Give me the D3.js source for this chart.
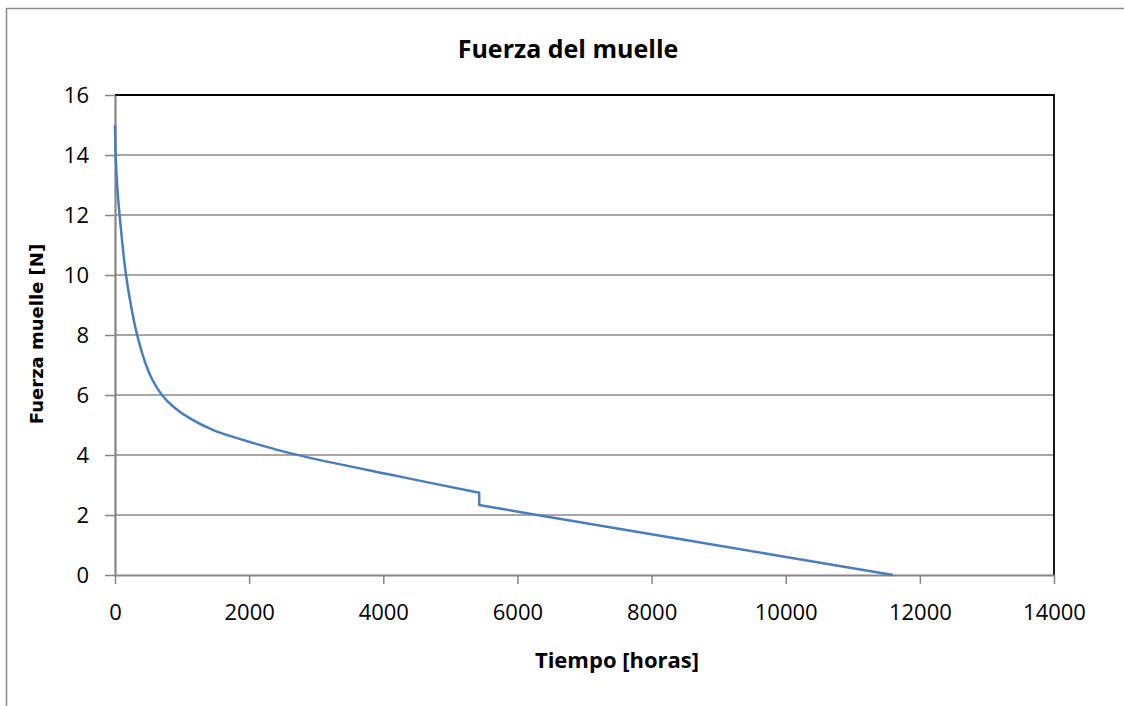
<!DOCTYPE html>
<html>
<head>
<meta charset="utf-8">
<script src="https://cdn.jsdelivr.net/npm/d3@7"></script>
<style>
  body { margin: 0; background: #fff; overflow: hidden; }
  svg { display: block; }
  .tick text { font-family: "Open Sans", sans-serif; font-size: 22px; fill: #000; }
</style>
</head>
<body>
<script>
// ---------------- data ----------------
const horas = [0, 10, 32, 68, 112, 164, 245, 330, 463, 559, 700, 870, 1118, 1466, 1913, 2684, 4249, 5430, 5430, 6140, 8420, 11600];
const fuerza = [15.0, 14.0, 13.0, 12.0, 11.0, 10.0, 8.9, 8.0, 7.0, 6.5, 6.0, 5.61, 5.22, 4.83, 4.5, 4.02, 3.28, 2.74, 2.33, 2.06, 1.2, 0];
const xTicks = [0, 2000, 4000, 6000, 8000, 10000, 12000, 14000];
const yTicks = [0, 2, 4, 6, 8, 10, 12, 14, 16];

const points = horas.map((h, i) => ({ h: h, f: fuerza[i] }));
// the curve has a vertical drop; split there so the smoothing doesn't overshoot
const stepAt = horas.findIndex((h, i) => i > 0 && h === horas[i - 1]);
const before = points.slice(0, stepAt);
const after = points.slice(stepAt);

// ---------------- layout ----------------
const width = 1124;
const height = 706;
const plot = { left: 115, right: 1054, top: 95, bottom: 575 };

const svg = d3.select("body").append("svg").attr("width", width).attr("height", height);

// outer chart border (left and top only are in view)
svg.append("path")
  .attr("d", `M6.5,${height}V8.5H${width}`)
  .attr("fill", "none").attr("stroke", "#8c8c8c").attr("stroke-width", 1.5);

// ---------------- scales ----------------
const x = d3.scaleLinear().domain([0, 14000]).range([plot.left, plot.right]);
const y = d3.scaleLinear().domain([0, 16]).range([plot.bottom, plot.top]);

// gridlines
svg.append("g")
  .selectAll("line")
  .data(yTicks.filter((t) => t > 0 && t < 16))
  .enter()
  .append("line")
  .attr("x1", plot.left).attr("x2", plot.right)
  .attr("y1", (d) => y(d)).attr("y2", (d) => y(d))
  .attr("stroke", "#8a8a8a").attr("stroke-width", 1.5);

// top and right border of plot area
svg.append("path")
  .attr("d", `M${plot.left},${plot.top}H${plot.right}V${plot.bottom}`)
  .attr("fill", "none").attr("stroke", "#000").attr("stroke-width", 1.8);

// ---------------- axes ----------------
const xAxis = svg.append("g")
  .attr("transform", `translate(0,${plot.bottom})`)
  .call(d3.axisBottom(x).tickValues(xTicks).tickFormat(d3.format("d")).tickSize(9).tickSizeOuter(0).tickPadding(16));

const yAxis = svg.append("g")
  .attr("transform", `translate(${plot.left},0)`)
  .call(d3.axisLeft(y).tickValues(yTicks).tickFormat(d3.format("d")).tickSize(10).tickSizeOuter(0).tickPadding(16));

[xAxis, yAxis].forEach((ax) => {
  ax.select(".domain").attr("stroke", "#868686").attr("stroke-width", 2.2);
  ax.selectAll(".tick line").attr("stroke", "#868686").attr("stroke-width", 1.5);
  ax.selectAll(".tick text").attr("fill", "#000");
});
xAxis.selectAll(".tick text").attr("dy", "0.9em");

// ---------------- series ----------------
const line = d3.line()
  .x((d) => x(d.h))
  .y((d) => y(d.f))
  .curve(d3.curveCatmullRom.alpha(0.5));

svg.append("path")
  .attr("d", line(before) + line(after).replace(/^M/, "L"))
  .attr("fill", "none")
  .attr("stroke", "#4a7ebb")
  .attr("stroke-width", 2.5)
  .attr("stroke-linejoin", "round");

// ---------------- titles ----------------
svg.append("text")
  .text("Fuerza del muelle")
  .attr("x", 568).attr("y", 58)
  .style("text-anchor", "middle")
  .style("font-family", "'Open Sans', sans-serif")
  .style("font-weight", "bold")
  .style("font-size", "25px");

svg.append("text")
  .text("Tiempo [horas]")
  .attr("x", 617).attr("y", 668)
  .style("text-anchor", "middle")
  .style("font-family", "'Open Sans', sans-serif")
  .style("font-weight", "bold")
  .style("font-size", "22px");

svg.append("text")
  .text("Fuerza muelle [N]")
  .attr("transform", "translate(43,334) rotate(-90)")
  .style("text-anchor", "middle")
  .style("font-family", "'DejaVu Sans', sans-serif")
  .style("font-weight", "bold")
  .style("font-size", "18px");
</script>
</body>
</html>
